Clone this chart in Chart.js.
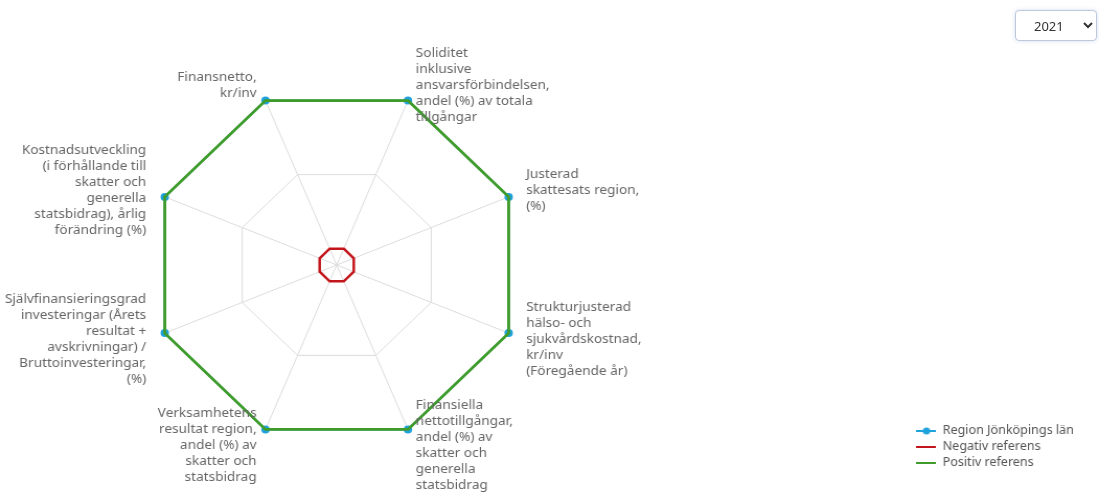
<!DOCTYPE html>
<html lang="sv">
<head>
<meta charset="utf-8">
<title>Nyckeltal region</title>
<script src="https://cdn.jsdelivr.net/npm/chart.js@4.4.1/dist/chart.umd.min.js"></script>
<style>
  html, body { margin: 0; padding: 0; background: #fff; }
  #wrap { position: relative; width: 1099px; height: 493px; overflow: hidden; }
  #radar { display: block; }
  #year {
    position: absolute; left: 1015px; top: 10px; width: 82px; height: 31px;
    border: 1px solid #bccadb; border-radius: 4px; background: #fff;
    box-shadow: 0 0 4px rgba(90, 130, 190, 0.25);
    font: 13px "Noto Sans", sans-serif; color: #333; padding-left: 14px;
  }
</style>
</head>
<body>
<div id="wrap">
  <!-- drawn slightly narrower and widened by the inline size, as in the published view -->
  <canvas id="radar" width="1051" height="493" style="width:1099px;height:493px"></canvas>
  <select id="year"><option>2021</option><option>2020</option><option>2019</option></select>
</div>
<script>
// axis texts, clockwise from the upper right spoke
const axisLabels = [
  ["Soliditet", "inklusive", "ansvarsförbindelsen,", "andel (%) av totala", "tillgångar"],
  ["Justerad", "skattesats region,", "(%)"],
  ["Strukturjusterad", "hälso- och", "sjukvårdskostnad,", "kr/inv", "(Föregående år)"],
  ["Finansiella", "nettotillgångar,", "andel (%) av", "skatter och", "generella", "statsbidrag"],
  ["Verksamhetens", "resultat region,", "andel (%) av", "skatter och", "statsbidrag"],
  ["Självfinansieringsgrad", "investeringar (Årets", "resultat +", "avskrivningar) /", "Bruttoinvesteringar,", "(%)"],
  ["Kostnadsutveckling", "(i förhållande till", "skatter och", "generella", "statsbidrag), årlig", "förändring (%)"],
  ["Finansnetto,", "kr/inv"],
];

// normalised scores (0 = negative reference, 100 = positive reference)
const regionValues = [100, 100, 100, 100, 100, 100, 100, 100];
const negativeValues = [0, 0, 0, 0, 0, 0, 0, 0];
const positiveValues = [100, 100, 100, 100, 100, 100, 100, 100];

const scaleMin = -11;
const ringValues = [0, 50, 100];

const BLUE = "#1fa2dc";
const RED = "#c3161c";
const GREEN = "#3f9b2a";
const FONT = '"Noto Sans", sans-serif';
const LABEL_SIZE = 13;
const LABEL_LINE = 16;
const ICON_W = 19;

// small legend glyphs: a line, optionally with a dot in the middle
function legendIcon(color, dot) {
  const c = document.createElement("canvas");
  c.width = ICON_W;
  c.height = 10;
  const g = c.getContext("2d");
  g.strokeStyle = color;
  g.lineWidth = 2;
  g.beginPath();
  g.moveTo(0, 5);
  g.lineTo(ICON_W, 5);
  g.stroke();
  if (dot) {
    g.fillStyle = color;
    g.beginPath();
    g.arc(ICON_W / 2, 5, 3.5, 0, Math.PI * 2);
    g.fill();
  }
  return c;
}

// multi-line spoke labels, centred vertically on a point just outside each spoke
const axisLabelPlugin = {
  id: "axisLabels",
  afterDatasetsDraw(chart) {
    const scale = chart.scales.r;
    const ctx = chart.ctx;
    ctx.save();
    ctx.font = `${LABEL_SIZE}px ${FONT}`;
    ctx.fillStyle = "#666";
    ctx.textBaseline = "middle";
    chart.data.labels.forEach((lines, i) => {
      const p = scale.getPointPosition(i, scale.drawingArea + 17);
      const right = p.x > scale.xCenter;
      ctx.textAlign = right ? "left" : "right";
      const x = p.x + (right ? 1 : -2);
      const top = p.y - ((lines.length - 1) * LABEL_LINE) / 2;
      lines.forEach((t, k) => ctx.fillText(t, x, top + k * LABEL_LINE));
    });
    ctx.restore();
  },
};

new Chart(document.getElementById("radar"), {
  type: "radar",
  data: {
    labels: axisLabels,
    datasets: [
      {
        label: "Region Jönköpings län",
        data: regionValues,
        borderColor: BLUE,
        backgroundColor: "transparent",
        borderWidth: 2,
        pointRadius: 4,
        pointBackgroundColor: BLUE,
        pointBorderWidth: 0,
        order: 3,
      },
      {
        label: "Negativ referens",
        data: negativeValues,
        borderColor: RED,
        backgroundColor: "transparent",
        borderWidth: 2.5,
        pointRadius: 0,
        order: 2,
      },
      {
        label: "Positiv referens",
        data: positiveValues,
        borderColor: GREEN,
        backgroundColor: "transparent",
        borderWidth: 2.8,
        pointRadius: 0,
        order: 1,
      },
    ],
  },
  options: {
    responsive: false,
    animation: false,
    layout: { padding: { left: 144, top: 58, bottom: 20, right: 14 } },
    plugins: {
      // empty right-hand title keeps the legend out at the far edge
      title: {
        display: true,
        text: "",
        position: "right",
        weight: 500,
        font: { size: 12 },
        padding: { top: 179, bottom: 179 },
      },
      legend: {
        position: "right",
        align: "end",
        labels: {
          usePointStyle: true,
          pointStyleWidth: ICON_W,
          padding: 4,
          color: "#555",
          font: { family: FONT, size: 12 },
          generateLabels(chart) {
            const items = Chart.defaults.plugins.legend.labels.generateLabels(chart);
            items.sort((a, b) => a.datasetIndex - b.datasetIndex);
            return items.map((it) => {
              const ds = chart.data.datasets[it.datasetIndex];
              it.pointStyle = legendIcon(ds.borderColor, it.datasetIndex === 0);
              return it;
            });
          },
        },
      },
      tooltip: { enabled: false },
    },
    scales: {
      r: {
        min: scaleMin,
        max: 100,
        startAngle: 22.5,
        afterBuildTicks(scale) {
          scale.ticks = [scaleMin, ...ringValues].map((v) => ({ value: v }));
        },
        ticks: { display: false },
        grid: { color: "#dcdcdc", lineWidth: 1 },
        angleLines: { color: "#dcdcdc", lineWidth: 1 },
        pointLabels: { display: false },
      },
    },
  },
  plugins: [axisLabelPlugin],
});
</script>
</body>
</html>
